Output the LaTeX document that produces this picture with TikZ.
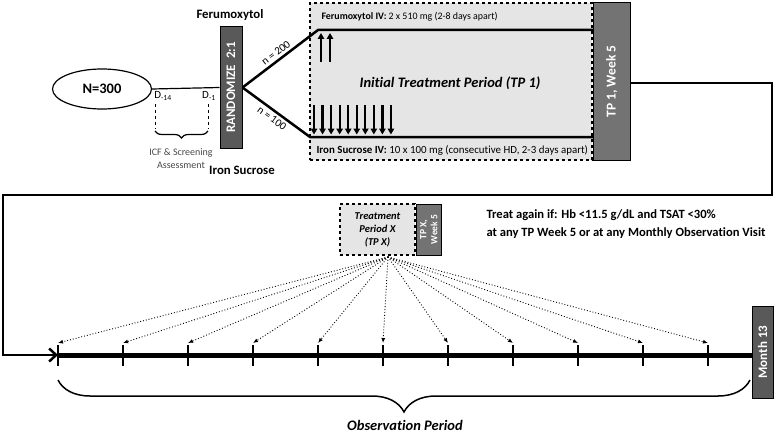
\documentclass[tikz,border=0pt]{standalone}
\usepackage{fontspec}
\setmainfont{Carlito}[Ligatures=NoCommon]
\usetikzlibrary{
  arrows.meta,
  positioning,
  shapes.geometric,
  decorations.pathreplacing
}

\begin{document}
\begin{tikzpicture}[x=1pt, y=-1pt,
  darkbox/.style={
    rectangle,
    draw=black,
    fill=black!65,
    text=white,
    line width=1pt,
    inner sep=0pt
  },
  periodbox/.style={
    rectangle,
    draw=black,
    dashed,
    line width=1.5pt,
    fill=black!10,
    inner sep=0pt
  },
  thickline/.style={line width=2.5pt},
  dose/.style={line width=2.2pt, -{Triangle[length=6pt,width=6.5pt]}},
  visit/.style={dotted, line width=0.9pt, -{Latex[length=5pt,width=4pt]}}
]

\useasboundingbox (0,0) rectangle (778,436);

% screening and randomisation
\node[ellipse, draw, line width=1.2pt, minimum width=99pt, minimum height=40pt,
  font=\bfseries\fontsize{14.5}{16}\selectfont] (pop) at (102,89) {N=300};
\node[darkbox, minimum width=22pt, minimum height=121pt,
  font=\bfseries\fontsize{13}{15}\selectfont] (rand) at (231,87.5) {\rotatebox{90}{RANDOMIZE\ \ 2:1}};
\node[font=\bfseries\fontsize{12.8}{14}\selectfont] (fer) at (230,15) {Ferumoxytol};
\node[font=\bfseries\fontsize{12.8}{14}\selectfont] (iron) at (242,170) {Iron Sucrose};
\draw[line width=1.2pt] (pop.east) -- (rand.west);

\node[font=\fontsize{11}{12}\selectfont] (dfirst) at (163,96) {D\textsubscript{-14}};
\node[font=\fontsize{11}{12}\selectfont] (dlast) at (209,96) {D\textsubscript{-1}};
\coordinate (sa) at (155,104);
\coordinate (sb) at (208,104);
\draw[dashed, line width=1pt] (sa) -- ++(0,25) (sb) -- ++(0,25);
\draw[decorate, decoration={brace, mirror, amplitude=7pt}, line width=1.2pt]
  ([yshift=-27pt]sa) -- ([yshift=-27pt]sb);
\node[text=black!72, align=center, font=\fontsize{10}{13}\selectfont] (icf) at (181,159)
  {ICF \& Screening\\Assessment};

% initial treatment period
\node[periodbox, minimum width=282pt, minimum height=157pt] (tp1) at (451,81.5) {};
\node[darkbox, fill=black!55, minimum width=37pt, minimum height=157pt, right=0pt of tp1,
  font=\bfseries\fontsize{13.5}{15}\selectfont] (tp1end) {\rotatebox{90}{TP 1, Week 5}};

\coordinate (ftop) at (318,30);
\coordinate (ibot) at (310,137);
\draw[thickline] (rand.east) -- node[sloped, above=-1pt, font=\fontsize{11}{12}\selectfont] {n = 200}
  (ftop) -- (ftop -| tp1end.west);
\draw[thickline] (rand.east) -- node[sloped, below=-1pt, font=\fontsize{11}{12}\selectfont] {n = 100}
  (ibot) -- (ibot -| tp1end.west);

\node[anchor=west, font=\fontsize{9.9}{11}\selectfont] (ferdose) at (318,17)
  {\textbf{Ferumoxytol IV:} 2 x 510 mg (2-8 days apart)};
\node[anchor=west, font=\fontsize{10.9}{12}\selectfont] (irondose) at (313,150)
  {\textbf{Iron Sucrose IV:} 10 x 100 mg (consecutive HD, 2-3 days apart)};
\node[font=\bfseries\itshape\fontsize{14.5}{17}\selectfont] (tp1label) at (450,83)
  {Initial Treatment Period (TP 1)};

\foreach \x in {321,330}
  \draw[dose] (\x,62) -- (\x,33);
\foreach \i in {0,...,9}
  \draw[dose] ({314+8.55*\i},105) -- ({314+8.55*\i},134.5);

% observation period
\foreach \i in {0,...,10}
  \coordinate (t\i) at ({58+65*\i},355);
\node[darkbox, minimum width=21pt, minimum height=92pt,
  font=\bfseries\fontsize{13}{15}\selectfont] (month) at (762.5,352) {\rotatebox{90}{Month 13}};

\draw[thickline, -{Straight Barb[length=7pt,width=13pt]}]
  (tp1end.east |- 0,83) -| (772,195) -| (3,355) -- (t0);
\draw[line width=5pt] (t0) -- (t0 -| month.west);
\foreach \i in {0,...,10}
  \draw[line width=1.8pt] ([yshift=-11pt]t\i) -- ([yshift=10pt]t\i);

\node[periodbox, minimum width=75pt, minimum height=51pt, align=center,
  font=\bfseries\itshape\fontsize{10.5}{13}\selectfont] (tpx) at (377.5,229.5)
  {Treatment\\Period X\\(TP X)};
\node[darkbox, fill=black!55, minimum width=25pt, minimum height=51pt, right=0pt of tpx,
  font=\bfseries\fontsize{9.5}{10}\selectfont] (tpxend) {\rotatebox{90}{\shortstack{TP X,\\Week 5}}};
\node[anchor=west, align=left, font=\bfseries\fontsize{12.6}{18}\selectfont] (retreat) at (483,224)
  {Treat again if: Hb <11.5 g/dL and TSAT <30\%\\at any TP Week 5 or at any Monthly Observation Visit};

\coordinate (hub) at (388,257);
\foreach \i in {0,...,10}
  \draw[visit] (hub) -- ([yshift=12pt]t\i);

\draw[decorate, decoration={brace, mirror, amplitude=32pt}, line width=1.5pt]
  (58,380) -- (750,380);
\node[font=\bfseries\itshape\fontsize{14.5}{16}\selectfont] (obs) at (405,425) {Observation Period};

\end{tikzpicture}
\end{document}
